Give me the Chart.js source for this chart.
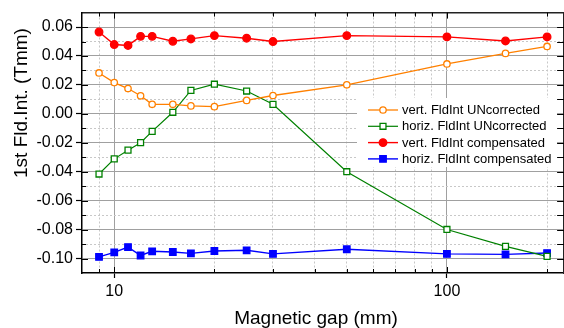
<!DOCTYPE html>
<html>
<head>
<meta charset="utf-8">
<script src="https://cdn.jsdelivr.net/npm/chart.js@4.4.0/dist/chart.umd.min.js"></script>
<style>
    html, body { margin: 0; padding: 0; background: #fff; overflow: hidden; }
    #wrap { width: 570px; height: 328px; }
</style>
</head>
<body>
<div id="wrap"><canvas id="gap-chart" width="570" height="328"></canvas></div>
<script>
'use strict';

// magnetic gap (mm)
const gaps = [9, 10, 11, 12, 13, 15, 17, 20, 25, 30, 50, 100, 150, 200];
// 1st field integral (Tmm)
const vertUncorrected = [0.0283, 0.0216, 0.0175, 0.0125, 0.0066, 0.0066, 0.0055, 0.0050, 0.0093, 0.0127, 0.0201, 0.0345, 0.0418, 0.0466];
const horizUncorrected = [-0.0416, -0.0311, -0.0251, -0.0199, -0.0121, 0.0011, 0.0162, 0.0205, 0.0158, 0.0066, -0.0400, -0.0799, -0.0916, -0.0985];
const vertCompensated = [0.0566, 0.0479, 0.0473, 0.0536, 0.0536, 0.0502, 0.0518, 0.0541, 0.0523, 0.0500, 0.0541, 0.0532, 0.0504, 0.0532];
const horizCompensated = [-0.0989, -0.0957, -0.0921, -0.0979, -0.0950, -0.0955, -0.0964, -0.0948, -0.0943, -0.0968, -0.0936, -0.0968, -0.0971, -0.0962];

const seriesLabels = ['vert. FldInt UNcorrected', 'horiz. FldInt UNcorrected', 'vert. FldInt compensated', 'horiz. FldInt compensated'];

const xMajorTicks = [10, 100];
const xMinorTicks = [9, 20, 30, 40, 50, 60, 70, 80, 90, 200];
const yMajorTicks = [-0.10, -0.08, -0.06, -0.04, -0.02, 0.00, 0.02, 0.04, 0.06];
const yMinorTicks = [-0.09, -0.07, -0.05, -0.03, -0.01, 0.01, 0.03, 0.05];

const xTitle = 'Magnetic gap (mm)';
const yTitle = '1st Fld.Int. (Tmm)';

const fontFamily = '"Liberation Sans", Arial, sans-serif';

function toPoints(values) {
    return gaps.map((g, i) => ({ x: g, y: values[i] }));
}

function series(label, values, color, style, radius, filled, width) {
    return {
        label: label,
        data: toPoints(values),
        borderColor: color,
        borderWidth: width,
        backgroundColor: color,
        pointStyle: style,
        pointRadius: radius,
        pointBorderWidth: 1.3,
        pointBorderColor: color,
        pointBackgroundColor: filled ? color : '#fff',
        tension: 0,
    };
}

function line(ctx, x1, y1, x2, y2) {
    ctx.beginPath();
    ctx.moveTo(x1, y1);
    ctx.lineTo(x2, y2);
    ctx.stroke();
}

const framePlugin = {
    id: 'frame',
    beforeDatasetsDraw(chart) {
        const ctx = chart.ctx;
        ctx.save();
        ctx.fillStyle = '#fff';
        ctx.fillRect(357, 98, 200, 69);
        chart.data.datasets.forEach((ds, i) => {
            const y = 110 + i * 16.3;
            ctx.strokeStyle = ds.borderColor;
            ctx.lineWidth = ds.borderWidth;
            line(ctx, 368, y, 398, y);
            ctx.fillStyle = ds.pointBackgroundColor;
            ctx.strokeStyle = ds.pointBorderColor;
            ctx.lineWidth = ds.pointBorderWidth;
            Chart.helpers.drawPoint(ctx, {
                pointStyle: ds.pointStyle,
                radius: ds.pointRadius,
                rotation: 0,
                borderWidth: ds.pointBorderWidth,
            }, 383, y);
            ctx.fillStyle = '#000';
            ctx.font = '13px ' + fontFamily;
            ctx.textAlign = 'left';
            ctx.textBaseline = 'middle';
            ctx.fillText(ds.label, 402, y + 0.5);
        });
        ctx.restore();
    },
    afterDraw(chart) {
        const { ctx, chartArea: a, scales } = chart;
        ctx.save();
        ctx.strokeStyle = '#000';
        ctx.lineWidth = 1;
        for (const v of xMajorTicks.concat(xMinorTicks)) {
            const len = xMajorTicks.includes(v) ? 6 : 4;
            const px = Math.round(scales.x.getPixelForValue(v)) + 0.5;
            line(ctx, px, a.top, px, a.top + len);
            line(ctx, px, a.bottom, px, a.bottom - len);
        }
        for (const v of yMajorTicks.concat(yMinorTicks)) {
            const len = yMajorTicks.includes(v) ? 6 : 4;
            const py = Math.round(scales.y.getPixelForValue(v)) + 0.5;
            line(ctx, a.left, py, a.left + len, py);
            line(ctx, a.right, py, a.right - 7, py);
        }
        ctx.fillStyle = '#000';
        ctx.font = '19px ' + fontFamily;
        ctx.textAlign = 'center';
        ctx.textBaseline = 'alphabetic';
        ctx.fillText(xTitle, 316, 324);
        ctx.translate(26.5, 103);
        ctx.rotate(-Math.PI / 2);
        ctx.fillText(yTitle, 0, 0);
        ctx.restore();
    },
};

const gapChart = new Chart(document.getElementById('gap-chart'), {
    type: 'line',
    data: {
        datasets: [
            series(seriesLabels[0], vertUncorrected, '#ff8000', 'circle', 3.2, false, 1.3),
            series(seriesLabels[1], horizUncorrected, '#008000', 'rect', 4.2, false, 1.2),
            series(seriesLabels[2], vertCompensated, '#ff0000', 'circle', 3.8, true, 1.4),
            series(seriesLabels[3], horizCompensated, '#0000ff', 'rect', 4.6, true, 1.4),
        ],
    },
    options: {
        responsive: false,
        animation: false,
        layout: { padding: 0 },
        scales: {
            x: {
                type: 'logarithmic',
                position: 'bottom',
                min: 8,
                max: 225,
                afterBuildTicks: s => { s.ticks = xMajorTicks.map(v => ({ value: v })); },
                afterFit: s => { s.height = 55; },
                ticks: {
                    callback: v => String(v),
                    font: { family: fontFamily, size: 16 },
                    color: '#000',
                    padding: 4,
                    maxRotation: 0,
                    autoSkip: false,
                },
                grid: { color: '#a0a0a0', lineWidth: 1, tickColor: '#000', tickLength: 5, tickWidth: 1.2 },
                border: { color: '#000', width: 1.5 },
            },
            xMinor: {
                type: 'logarithmic',
                position: 'top',
                min: 8,
                max: 225,
                afterBuildTicks: s => { s.ticks = xMinorTicks.map(v => ({ value: v })); },
                afterFit: s => { s.height = 10; },
                ticks: { display: false },
                grid: { color: '#c8c8c8', lineWidth: 1, drawTicks: false },
                border: { color: '#222', width: 1.5, dash: [2, 2] },
            },
            y: {
                type: 'linear',
                position: 'left',
                min: -0.11,
                max: 0.07,
                afterBuildTicks: s => { s.ticks = yMajorTicks.map(v => ({ value: v })); },
                afterFit: s => { s.width = 82; },
                ticks: {
                    callback: v => v.toFixed(2),
                    font: { family: fontFamily, size: 16 },
                    color: '#000',
                    padding: 3,
                    autoSkip: false,
                },
                grid: { color: '#a0a0a0', lineWidth: 1, tickColor: '#000', tickLength: 6, tickWidth: 1.2 },
                border: { color: '#000', width: 1.5 },
            },
            yMinor: {
                type: 'linear',
                position: 'right',
                min: -0.11,
                max: 0.07,
                afterBuildTicks: s => { s.ticks = yMinorTicks.map(v => ({ value: v })); },
                afterFit: s => { s.width = 5; },
                ticks: { display: false },
                grid: { color: '#c8c8c8', lineWidth: 1, drawTicks: false },
                border: { color: '#222', width: 1.5, dash: [2, 2] },
            },
        },
        plugins: {
            legend: { display: false },
            tooltip: { enabled: false },
        },
    },
    plugins: [framePlugin],
});
</script>
</body>
</html>
